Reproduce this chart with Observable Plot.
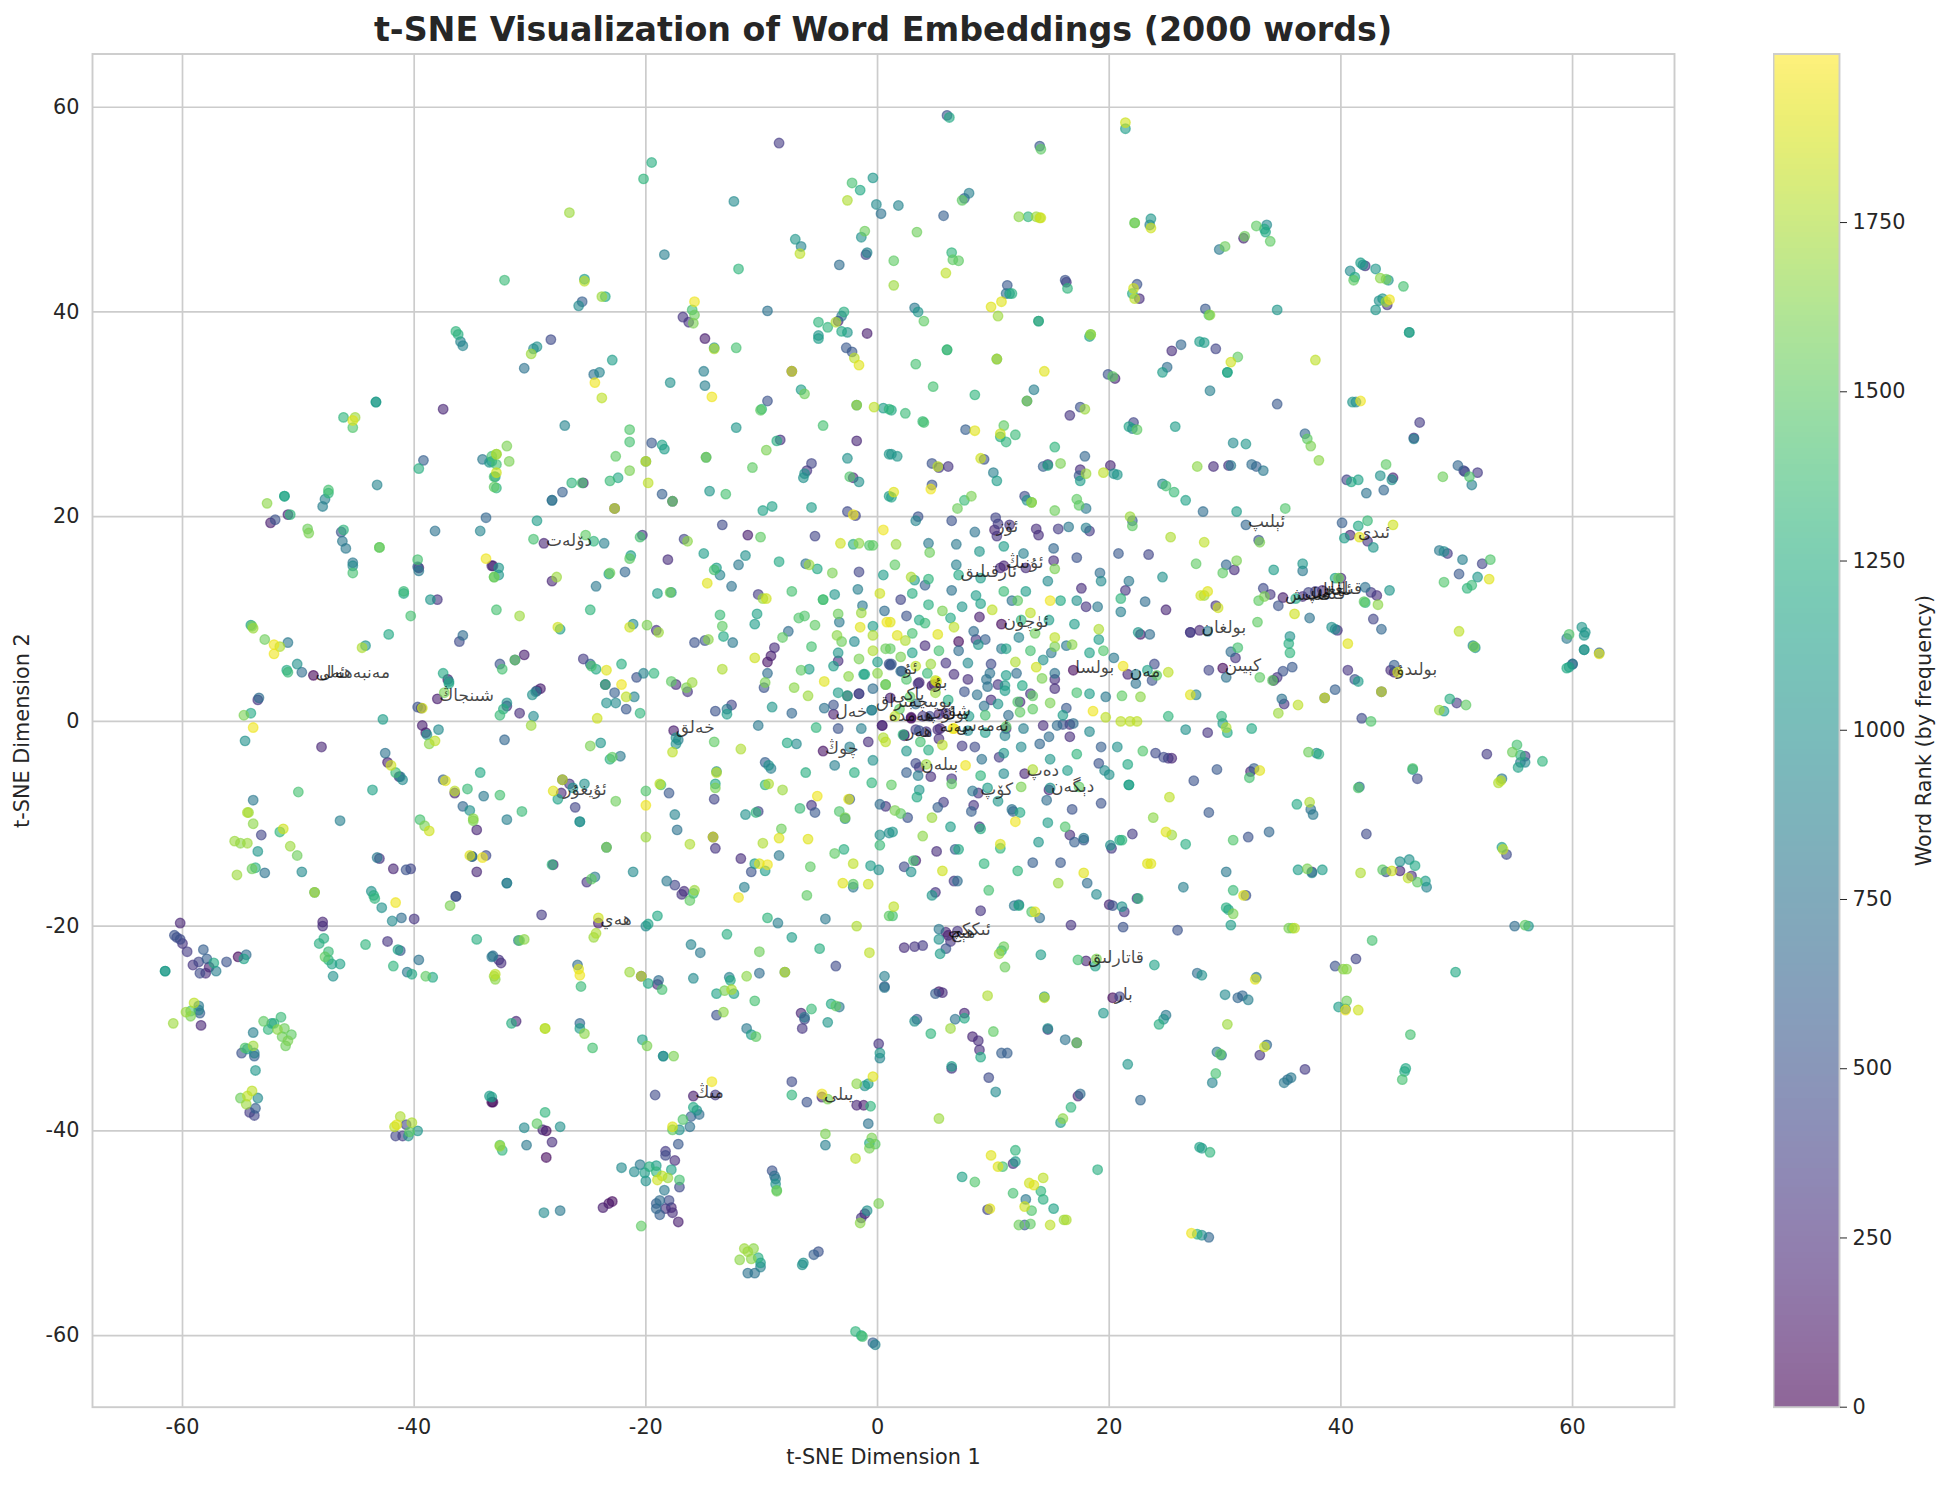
<!DOCTYPE html>
<html>
<head>
<meta charset="utf-8">
<script src="https://cdn.jsdelivr.net/npm/d3@7"></script>
<script src="https://cdn.jsdelivr.net/npm/@observablehq/plot@0.6"></script>
<style>
html,body{margin:0;padding:0;background:#fff;}
#page{position:relative;width:1951px;height:1485px;font-family:"DejaVu Sans",sans-serif;color:#262626;overflow:hidden;}
#page svg{position:absolute;background:transparent;}
#title{position:absolute;left:92px;width:1582px;top:11px;text-align:center;font-weight:700;font-size:33.3px;line-height:38px;color:#262626;}
</style>
</head>
<body>
<div id="page"><div id="title">t-SNE Visualization of Word Embeddings (2000 words)</div></div>
<script>
const chartTitle="t-SNE Visualization of Word Embeddings (2000 words)";
const xTicks=[-60,-40,-20,0,20,40,60];
const yTicks=[-60,-40,-20,0,20,40,60];
const colorTicks=[0,250,500,750,1000,1250,1500,1750];
// x, y, rank triples, grouped by part of the map
const farWestUpper=[-36.4,38.1,1300,-36.2,37.8,1250,-36,37.1,900,-35.8,36.7,900,-43.3,31.2,1050,-43.3,31.2,1100,-37.5,30.5,200,-46.1,29.7,1300,-45.1,29.7,1700,-45.3,29.4,1900,-45.3,28.7,1450,-39.2,25.5,600,-39.6,24.7,1250,-34.1,25.6,800,-33.5,25.3,1050,-33.3,25.9,1400,-33.1,23.9,1400,-33.1,22.9,1500,-43.2,23.1,900,-51.2,22,1200,-51.2,22,1100,-52.7,21.3,1650,-47.4,22.6,1400,-47.4,22.3,1300,-47.7,21.7,850,-47.9,21,850,-50.9,20.2,200,-50.7,20.2,1300,-52,19.7,500,-52.4,19.4,150,-49.2,18.8,1550,-49.1,18.4,1600,-46.1,18.7,1300,-46.3,18.5,500,-46.2,17.6,800,-45.9,16.9,800,-43,17,1550,-43,17,1450,-45.3,15.5,800,-45.3,15.2,950,-45.3,14.5,1400,-39.7,15.8,1400,-39.7,15.1,600,-39.6,14.7,800,-39.6,15,150,-38.2,18.6,750,-33.8,19.9,650,-34.3,18.6,900,-33.8,15.9,1950,-33.3,15.2,200,-33.1,14.1,1500,-40.9,12.7,1350,-40.9,12.5,1200,-38.6,11.9,1050,-38,11.9,300,-40.3,10.3,1400,-42.2,8.5,1200,-35.8,8.4,700,-36.1,7.8,450,-54.1,9.4,1100,-54,9.3,1550,-53.9,9.1,1700,-52.9,8,1550,-50.9,7.7,800,-52.1,7.5,1950,-51.6,7.3,1750,-52.1,6.6,1950,-44.2,7.4,1050,-44.5,7.2,1750,-50.1,5.6,1000,-51,5,1200,-50.9,4.8,1350,-49.7,4.8,700,-48.7,4.5,30,-37.5,4.7,1200,-37.1,4.1,150,-37,3.9,1000,-37,3.7,1200,-37.4,2.8,1600,-38,2.2,150,-39.7,1.4,500,-39.4,1.3,200,-39.3,1.3,1850,-53.4,2.3,700,-53.5,2.1,300,-54.1,0.8,1200,-54.7,0.6,1600,-42.7,0.2,1100];
const farWestLower=[-53.9,-0.6,1950,-54.6,-1.9,1000,-39.3,-0.4,150,-39,-1.1,150,-38.9,-1.3,1000,-37.9,-0.8,950,-38.7,-2.2,1650,-38.2,-1.9,1800,-48,-2.5,200,-42.5,-3.1,750,-42.3,-4,150,-42,-4.3,1850,-41.6,-5,1350,-41.2,-5.4,850,-41.3,-5.4,250,-41,-5.7,950,-37.5,-5.7,600,-37.3,-5.8,1900,-50,-6.9,1400,-43.6,-6.7,1150,-34.3,-5,1200,-35.4,-6.6,1350,-36.5,-6.8,1800,-36.5,-7,200,-34,-7.3,800,-35.8,-8.3,650,-35.2,-8.7,1000,-34.9,-9.5,1650,-34.9,-9.7,1600,-34.6,-10.6,200,-53.9,-7.7,800,-54.4,-8.9,1750,-54.3,-8.9,1700,-53.9,-10,1650,-53.2,-11.1,400,-46.4,-9.7,850,-39.5,-9.6,1400,-39.1,-10.2,1600,-38.7,-10.7,1850,-51.3,-10.5,1850,-51.6,-10.8,1300,-55.5,-11.7,1700,-55,-11.9,1650,-54.4,-11.9,1700,-50.7,-12.2,1700,-50.1,-13.1,1550,-53.5,-12.7,1050,-55.3,-15,1700,-54,-14.4,1550,-53.7,-14.3,1250,-52.9,-14.8,750,-49.7,-14.7,950,-43.2,-13.3,800,-43,-13.4,300,-41.8,-14.4,200,-40.7,-14.5,500,-40.3,-14.4,400,-35.2,-13.1,1900,-35,-13.2,900,-35,-13.2,100,-34.1,-13.3,1950,-33.8,-13.1,450,-34.6,-14.7,200,-48.6,-16.7,1750,-48.6,-16.7,1050,-43.7,-16.6,1000,-43.5,-17,1250,-43.4,-17.3,1300,-41.6,-17.7,1950,-42.8,-18.2,1000,-36.9,-18,1600,-36.4,-17.1,550,-36.4,-17.1,300,-41.1,-19.2,700,-41.9,-19.5,950,-40,-19.3,300,-60.2,-19.7,200,-47.9,-19.6,200,-47.9,-20,250,-60.7,-20.9,500,-60.5,-21.1,450,-60.2,-21.3,450,-60,-21.7,300,-59.6,-22.5,350,-47.8,-21.2,1250,-48.2,-21.7,1250,-42.3,-21.5,300,-44.2,-21.8,1300,-41.4,-22.3,1150,-41.2,-22.4,550,-34.6,-21.3,1250,-39.6,-23.3,750,-41.8,-23.9,1300,-40.6,-24.5,800,-40.2,-24.7,1200,-39,-24.9,1500,-38.4,-25,1200,-33.3,-23,800,-33.1,-24.9,1700,-58.2,-22.3,600,-57.9,-23.2,600,-58.6,-23.5,400,-59.1,-23.8,300,-57.3,-23.6,1200,-57.7,-24,150,-57.1,-24.4,850,-58.5,-24.6,450,-58,-24.6,250,-61.5,-24.4,1100,-61.5,-24.4,1050,-56.2,-23.5,500,-55.2,-23,50,-54.5,-22.8,700,-54.7,-23.2,1150,-47.4,-22.5,1350,-47.7,-23,1500,-47.4,-23.3,1300,-47.1,-23.7,1150,-46.4,-23.7,1150,-47,-24.9,1000,-59,-27.5,1800,-58.6,-27.8,800,-58.6,-28.2,850,-58.5,-28.5,600,-59.7,-28.4,1700,-59.3,-28.8,1600,-59.3,-28.3,1450,-60.8,-29.5,1700,-58.4,-29.7,200,-53,-29.3,1500,-52.3,-29.5,1000,-52.1,-29.5,1300,-51.5,-28.9,1350,-52.6,-30.1,1300,-51.8,-30.1,1650,-51.2,-30,1550,-50.6,-30.6,1500,-51.4,-30.8,1550,-50.9,-31.2,1600,-51.1,-31.7,1550,-53.9,-30.4,850,-54.6,-31.9,1450,-54.4,-32,1100,-53.9,-31.7,1700,-54.9,-32.4,500,-53.8,-32.4,850,-53.8,-32.7,600,-53.7,-34.1,1050,-55,-36.8,1550,-54,-36.1,1800,-54.4,-36.6,1800,-53.5,-36.8,950,-54.5,-37.4,1700,-53.7,-37.8,600,-54.2,-38.2,350,-53.8,-38.5,400,-41.2,-38.6,1750,-40.2,-39.2,1750,-41.7,-39.6,1800,-41.5,-39.4,1900,-40.7,-39.4,400,-41.6,-40.5,400,-41,-40.5,350,-40.5,-40.5,1000,-40.4,-40.1,1500,-39.7,-40,1050,-33.5,-36.6,1100,-33.3,-37.2,50];
const westUpper=[-8.5,56.5,350,-19.5,54.6,1250,-20.2,53,1300,-12.4,50.8,950,-0.4,53.1,1050,-2.2,52.6,1400,-1.5,51.9,1200,-2.6,50.9,1750,-0.1,50.5,950,0.3,49.6,750,-26.6,49.7,1700,-1.1,47.9,1550,-1.4,47.3,1000,-7.1,47.1,1050,-6.6,46.4,900,-6.7,45.7,1800,-0.9,45.8,900,-1,45.6,400,-18.4,45.6,850,-3.3,44.6,700,-12,44.2,1300,-32.2,43.1,1350,-25.3,43.2,1100,-25.3,43,1800,-23.8,41.5,1700,-23.5,41.5,1200,-25.5,41,600,-25.8,40.6,950,-15.8,41,1950,-16,40.2,1400,-15.8,39.7,1550,-16.8,39.5,300,-16.3,39,300,-15.9,38.9,1600,-9.5,40.1,750,-2.9,40,1250,-3.1,39.6,800,-3.4,39.1,250,-3.6,39,1750,-5.1,39,1300,-4.3,38.5,1300,-3.1,38.1,1200,-2.6,38,1050,-5.1,37.7,1050,-5.1,37.4,1100,-0.9,37.9,150,-14.9,37.4,150,-14.1,36.5,1000,-14.1,36.4,1750,-12.2,36.5,1400,-28.2,37.3,450,-29.4,36.6,1000,-29.7,36.4,950,-29.9,35.9,1700,-2.7,36.5,550,-2.2,36.1,550,-2,35.5,1800,-1.6,34.8,1900,-22.9,35.3,1100,-30.5,34.5,750,-24,34.1,900,-24.5,33.9,750,-24.4,33.1,1950,-15,34.2,850,-7.4,34.2,1850,-7.4,34.2,200,-17.9,33.1,1000,-14.9,32.8,850,-14.3,31.7,1950,-23.8,31.6,1800,-6.6,32.4,1100,-6.3,32,1550,-9.5,31.3,500,-10.1,30.4,1500,-10,30.5,1300,-1.8,30.9,1700,-1.8,30.9,1000,-0.3,30.7,1800,0.5,30.6,1100,1,30.5,1300,-27,28.9,900,-12.2,28.7,1050,-4.7,28.9,1400,-21.4,28.5,1450,-21.4,27.3,1400,-19.5,27.2,550,-18.6,27,1150,-18.4,26.6,1100,-22.6,25.9,1500,-21.4,24.5,1600,-20,25.4,1000,-20,25.4,1850,-22.4,23.8,1200,-23.1,23.5,1350,-26.4,23.3,1300,-25.5,23.3,1400,-25.4,23.3,150,-19.8,23.3,1800,-27.2,22.4,600,-28.1,21.6,800,-28.1,21.6,600,-9.6,26.5,1600,-8.4,27.5,300,-8.7,27.4,1250,-1.8,27.4,200,1,26.1,1050,-2.6,25.7,1000,-14.8,25.8,1050,-14.8,25.8,1600,-10.8,24.8,1500,-5.7,25.2,400,-6.1,24.5,300,-6.3,24.2,1000,-6.4,23.8,1000,-2.1,23.8,200,-2.4,23.9,1450,-1.6,23.4,1000,-14.5,22.5,1050,-13.1,22.2,1400,-18.6,22.2,600,-17.7,21.5,200,-17.7,21.5,1500,-22.7,20.8,1800,-22.7,20.8,200,-9.9,20.6,1150,-9.1,21,1150,-5.7,20.9,1100,-2.6,20.5,450,-2.1,20.2,1950,-1.9,20.1,400,-29.4,19.6,1100,1,22,1100,-13.4,19.2,450,-32,26.9,1600,-32.9,26.1,1600,-32.9,26.1,1750,-31.8,25.4,1600,-33.3,25.4,1100,-32.9,25.1,1400,-32.9,24.3,1850,-33,23.9,1050,-32.9,22.8,1300,-29.7,17.8,1400,-28.8,17.4,200,-25.2,18.2,1500,-24.5,17.6,1300,-23.6,17.4,850,-20.3,18.2,350,-20.5,18,1400,-16.7,17.8,400,-16.4,17.6,1650,-11.2,18.2,150,-10.1,18,1500,-5.4,18.1,400,0.5,18.7,1950,-3.2,17.4,1850,-2.1,17.3,1250,-1.6,17.4,1650,-0.7,17.2,1450,-0.4,17.2,1500,-15,16.4,1100,-11.4,16.2,1000,-18.1,15.8,250,-21.3,16.2,1100,-21.4,15.9,1500,-12,15.3,800,-8.5,15.6,1200,-6.2,15.4,750,-5.9,15.3,1700,-5.2,14.9,1200,-13.9,15,1100,-14.1,14.8,1400,-13.6,14.3,900,-21.8,14.6,650,-23.1,14.5,1550,-23.2,14.4,1100,-3.9,14.5,1600,-1.6,14.6,400,0.5,14.3,1100,-33.2,15.2,200,-32.7,15,1050,-32.7,14.3,1050,-33.1,14.1,1550,-27.7,14.1,1700,-28.1,13.7,200,-24.3,13.2,800,-14.7,13.5,1900,-12.6,13.2,750,-19,12.5,1100,-17.8,12.6,1000,-17.9,12.6,1550,-10.3,12.4,350,-9.9,12,1700,-9.6,12,1850,-7.4,12.7,1400,-4.7,11.9,1350,-3.7,12.4,1050,-1.7,12.9,850,0.2,12.5,1850,-4.7,11.9,1400,-1.3,11.3,800,-32.9,10.9,1400,-30.9,10.3,1700,-24.8,10.9,1300,-13.6,10.4,1350,-10.4,10.5,1150,-6.8,10.1,1450,-6.3,10.3,1450,-3.4,10.5,1550,-1.4,10.6,1700,0.6,10.8,700,-21.1,9.5,950,-21.4,9.2,1850,-19.9,9.4,1600,-19.1,8.9,300,-18.9,8.7,1700,-27.6,9.2,1850,-27.4,9,1100,-13.4,9.3,1500,-10.6,9.5,1100,-5.4,9.4,1500,-3.3,9.7,800,-1.5,9.2,1900,-0.4,9.3,1100,0.8,9.7,1950,-7.7,8.8,700,-8.2,8.2,1500,-13.3,8.3,1200,-15.8,7.7,500,-14.9,7.9,500,-14.6,8,1650,-12.5,7.7,800,-3.5,8.4,1650,-3.1,7.8,1550,-2,7.8,950,-0.4,8.4,1750,-5.7,7.3,1400,-8.9,7.2,250,-0.4,6.9,1750,0.7,7.1,1550,-9.2,6.4,150,-10.6,6.2,1850,-9.5,5.8,100,-30.5,6.5,150,-31.3,6,400,-31.3,6,1500,-32.6,5.6,500,-32.4,5.1,1400,-25.4,6.1,350,-24.8,5.6,600,-24.7,5.4,1400,-24.3,5.1,1200,-23.4,5,1900,-22.1,5.6,1250,-20.8,4.3,500,-20.2,4.7,900,-19.3,4.7,1300,-13.4,5.1,1750,-9.5,4.7,700,-6.6,5,1500,-5.9,5.1,1100,-3.4,6.7,1050,-3.4,5.9,250,-3.8,5.4,1100,-1.6,6.1,1600,0,5.8,1100,1,5.6,500,-1.2,4.6,1100,0,4.7,1650,-2.5,4.4,1650,-4.6,3.9,1900,-9.7,3.8,1600,-9.8,3.3,500,-7.2,3.3,1650,-6,2.5,1700,0.7,3.6,1600,-17.8,3.9,1500,-17.4,3.6,250,-16,3.8,1700,-16.5,3.3,1600,-16.4,2.9,300,-23.5,3.6,1300,-23.5,3.6,200,-22.1,3.6,1950,-22.7,2.8,600,-21.7,2.4,1800,-21,2.4,900,-23.4,1.8,1000,-22.6,1.8,950,-21.7,1.2,550,-20.5,0.8,1300,-24.2,0.3,1850,-29.1,3.2,150,-29.4,3,200,-29.5,2.9,800,-29.8,2.6,1000,-32,1.8,1000,-32,1.5,300,-32.3,1.2,1250,-32.6,0.6,1350,-30.9,0.8,250,-29.7,0.5,950,-12.6,1.6,400,-13,1.2,800,-14,1,500,-13,0.7,1100,-9.1,1.4,1050,-7.4,0.8,650,-0.4,3.2,700,-3.4,2.8,1100,-2.6,2.5,1250,-2.6,2.5,200,-1.6,2.7,300,-3.8,1.6,500,-4.6,1.3,750,-3.8,0.7,150,-0.5,1.1,800];
const westLower=[-10.3,-0.4,800,-17.6,-0.9,150,-17.4,-1.6,1000,-17.2,-1.8,850,-17.4,-2.2,1000,-17.7,-3,1800,-14.1,-2,1500,-11.8,-2.7,1750,-7.8,-2.1,1200,-7,-2.2,950,-5.3,-0.6,1300,-3.4,-0.7,500,-1.4,-0.7,850,0.4,-0.4,200,-32.2,-1.8,650,-29.9,-0.4,1700,-23.9,-2.1,1050,-24.8,-2.4,1600,-22.9,-3.5,1500,-23.1,-3.7,1250,-22.2,-3.4,800,-4.7,-2.9,100,-2.4,-2.5,850,-0.8,-2,250,0.5,-1.6,1750,0.7,-2,1800,-0.4,-3.8,1000,-3.7,-4.3,850,-2,-5,1250,-9.7,-4,600,-9.4,-4.3,1000,-9.2,-4.6,850,-13.9,-4.9,1000,-13.9,-5,1800,-14,-6.1,1200,-14,-6.5,1600,-6.2,-5,1250,-27.2,-5.7,1800,-27.2,-5.7,300,-26.6,-6.1,300,-26.3,-6.5,1000,-25.3,-6.1,1000,-28,-6.8,1900,-27.3,-7,200,-27.6,-7.6,1150,-26.1,-8.4,400,-32.6,-7.2,1400,-30.7,-8.8,1350,-32,-9.6,850,-25.7,-9.8,950,-25.7,-9.8,1000,-22.6,-7.8,1550,-20,-6.8,1450,-20,-8.2,1950,-18.8,-6.1,1800,-18.7,-6.2,1450,-18,-7,550,-14.1,-7.6,400,-17.5,-9.1,900,-17.3,-10.6,750,-20,-11.3,1700,-16.2,-12,1750,-14.2,-11.3,1850,-14.2,-11.3,300,-14,-12.4,300,-23.4,-12.3,800,-23.4,-12.3,1600,-11.8,-13.4,250,-10.3,-8.8,400,-10.5,-8.9,1300,-11.4,-9.1,1000,-9.7,-6.2,1300,-9.4,-6.1,1750,-8.2,-6.7,1700,-8.3,-10.5,1550,-8.5,-11.4,1900,-9.9,-11.9,1750,-8.5,-13.1,800,-10.6,-13.9,1100,-10.2,-13.9,1900,-9.5,-14,1950,-10.9,-14.7,500,-9.7,-14.6,1100,-5.2,-7.3,1950,-6.7,-8.5,1350,-5.7,-8.2,300,-5.4,-8.9,550,-2.4,-7.6,600,-2.5,-7.6,1900,-3.3,-8.8,1450,-2.8,-9.4,1600,-2.8,-9.5,900,-0.5,-6,1300,0.2,-8.1,700,0.7,-8.3,300,0.2,-11.1,1000,0.2,-12.1,1350,1,-10.9,950,-6,-11.5,1900,-3.7,-12.9,1500,-2.9,-12.5,1250,-5.8,-14.2,1500,-2.1,-13.9,1800,-0.6,-14.1,1100,0.1,-14.5,1000,-3,-15.8,1900,-2.1,-15.9,1500,-2.1,-16.2,800,-0.8,-15.9,1850,-6.1,-17,1500,-11.5,-16.2,850,-12,-17.2,1950,-28.1,-14,1300,-28,-14,200,-25.1,-15.7,300,-24.7,-15.4,1500,-24.4,-15.2,800,-21.1,-14.7,950,-32,-15.8,850,-32,-15.8,800,-18.2,-15.6,800,-17.5,-16,400,-16.7,-16.6,250,-16.9,-16.9,300,-15.8,-16.5,1700,-15.9,-16.8,1300,-16.2,-17.5,1500,-29,-18.9,350,-24.1,-19.2,1850,-24.1,-19.7,150,-24.3,-20.7,1750,-24.5,-21.1,1700,-20,-20,950,-19.8,-19.8,1150,-19,-19,1200,-9.5,-19.2,1300,-8.6,-19.7,850,-4.5,-19.3,800,-1.8,-20,1750,1,-19,1500,-30.9,-21.4,1500,-31,-21.4,800,-30.5,-21.3,1650,-16.1,-21.8,900,-15.3,-22.6,800,-13,-20.8,1250,-7.4,-21.1,1100,-5,-22.2,1250,-10.2,-22.5,1550,-0.7,-22.6,1800,-3.6,-23.9,450,-33.2,-22.9,700,-32.7,-23.3,300,-32.5,-23.6,250,-33,-24.7,1800,-33,-25.2,1650,-25.9,-23.8,700,-25.8,-24.2,1900,-25.7,-24.8,1950,-25.6,-25.9,1350,-21.4,-24.5,1700,-20.4,-24.9,1800,-20.4,-24.9,300,-19.8,-25.6,1200,-18.9,-25.3,700,-19,-25.7,200,-18.6,-26.2,1400,-15.9,-25.1,950,-12.8,-25,850,-12.7,-25.3,1200,-11.3,-24.9,1650,-10.2,-24.6,700,-8,-24.5,1800,-8,-24.5,800,-13.9,-26.6,1150,-13.2,-26.3,1600,-12.6,-26.2,1750,-12.4,-26.6,1150,-10.6,-27.3,1400,0.6,-24.9,850,0.6,-25.9,550,0.6,-26,800,-5.7,-28.1,1350,-6.6,-28.5,200,-6.3,-28.9,800,-6.3,-29.1,400,-6.5,-30,300,-4,-27.6,1200,-3.6,-27.8,1500,-3.3,-27.9,800,-4.3,-29.4,1050,-13.9,-28.7,500,-13.3,-28.4,1650,-11.3,-30,800,-10.9,-30.6,1100,-10.5,-30.8,1500,-31.2,-29.3,200,-31.6,-29.5,1250,-28.7,-30,1800,-28.7,-30,1750,-25.7,-29.5,650,-25.7,-30,1100,-25.3,-30.5,1650,-24.6,-31.9,1400,-20.3,-31.1,1150,-19.9,-31.7,1600,-18.5,-32.7,1000,-18.5,-32.7,900,-17.6,-32.7,1600,0.1,-31.5,300,0.2,-32.4,1050,0.2,-32.9,900,-14.3,-35.2,1950,-0.4,-34.7,1900,-1.8,-35.4,1650,-0.8,-35.4,1100,-1.1,-35.6,1000,-7.4,-35.2,450,-7.4,-36.5,1300,-4.8,-36.4,1950,-4.8,-36.7,200,-4.3,-36.9,1600,-6.1,-37.2,500,-1.8,-37.5,200,-1.2,-37.5,150,-0.6,-37.6,1300,-0.8,-39.3,750,-19.2,-36.5,450,-15.9,-36.6,150,-14,-36.5,350,-15.9,-37.7,1200,-15.6,-38,1000,-15.4,-38.4,700,-16.1,-38.6,600,-16.8,-38.9,1450,-17.7,-39.6,1900,-17.7,-39.9,1500,-17.1,-39.9,1000,-16.2,-39.6,750,-33.3,-36.7,1100,-33.2,-37.2,50,-28.7,-38.2,1300,-29.4,-39.3,1500,-30.5,-39.7,950,-27.4,-39.6,1000,-28.9,-39.9,200,-28.6,-40,50,-28.1,-41.1,250,-30.3,-41.4,800,-32.6,-41.4,1500,-32.4,-41.9,1300,-32.6,-41.5,1700,-28.6,-42.6,50,-4.5,-40.3,1600,-4.5,-41.4,850,-0.5,-40.7,1600,-0.7,-41.2,1200,-0.2,-41.3,1500,-0.7,-41.7,1600,-1.9,-42.7,1800,-17.2,-41.3,550,-18.3,-42,350,-18.3,-42.4,450,-17.5,-42.9,250,-22.1,-43.6,950,-21,-44,950,-20.5,-43.3,800,-20.1,-44.1,1100,-20,-44.9,1000,-19.7,-43.5,1250,-19.1,-44,1300,-19.1,-43.4,1100,-17.8,-43.8,1150,-19,-44.8,1850,-18.6,-44.4,1800,-18.1,-44.6,1700,-17.1,-44.8,1400,-18.4,-45.8,800,-17.1,-45.5,450,-18.8,-46.8,700,-19.1,-47.1,600,-18,-46.8,450,-19.1,-47.6,650,-18.3,-47.6,300,-17.8,-47.5,200,-18.8,-48.2,600,-17.7,-48,250,-17.2,-48.9,150,-20.4,-49.3,1500,-23.7,-47.5,150,-23.2,-47.1,100,-22.9,-46.9,50,-28.8,-48,950,-27.4,-47.8,800,-9.1,-43.9,500,-8.9,-44.4,700,-8.8,-44.7,800,-8.8,-45.2,1000,-8.7,-45.8,1450,-8.7,-45.9,1550,0.1,-47.1,1600,-0.9,-47.8,1000,-1.1,-48.1,200,-1.4,-48.5,300,-1.5,-49,1650,-11.5,-51.5,1700,-10.7,-51.5,1650,-11.2,-51.8,1700,-11.9,-52.6,1650,-10.9,-52.5,1650,-10.3,-52.4,1250,-10.1,-52.9,1100,-10.1,-53.3,850,-11.2,-53.9,750,-10.6,-53.9,750,-5.1,-51.8,500,-5.5,-52.1,600,-6.4,-52.9,1000,-6.5,-53.1,1000,-1.9,-59.6,1300,-1.4,-60,1200,-1.3,-60.1,1400,-0.4,-60.7,600,-0.2,-60.9,900];
const eastUpper=[6,59.2,500,6.2,59,1200,21.4,58.5,1850,21.4,57.9,1100,14,56.2,550,14.1,55.9,1500,7.9,51.6,850,7.5,51.1,600,7.3,50.9,1500,1.8,50.4,900,5.7,49.4,600,12.2,49.3,1650,13,49.3,1300,13.7,49.3,1700,14,49.2,1800,14.1,49.2,1850,3.4,47.8,1550,22.2,48.7,1600,22.2,48.7,1450,23.6,49.1,1050,23.5,48.5,850,23.6,48.2,1850,32.7,48.4,1500,33.6,48.5,950,33.4,48.1,1200,33.5,47.8,1200,33.9,46.9,1500,31.7,47.4,1550,31.6,47.2,200,30,46.4,1550,29.5,46.1,800,6.4,45.8,1300,6.5,45.1,1500,7,45,1500,1.4,45,1500,5.9,43.8,1800,1.4,42.6,1700,11.2,42.6,550,11.1,41.8,700,11.4,41.8,1100,11.6,41.8,1250,16.2,43.1,500,16.3,42.9,300,16.4,42.3,1300,22.4,42.7,500,22.1,42.3,1850,22,41.8,1200,22.2,41.3,1800,22.6,41.3,250,3.2,40.4,800,3.5,40,1050,4,39.1,1500,9.8,40.5,1900,10.7,41,1900,10.4,39.6,1700,13.9,39.1,850,13.9,39.1,1300,18.4,37.8,1700,18.3,37.6,1150,18.4,37.8,1500,28.3,40.3,550,28.6,39.7,1450,28.7,39.7,1650,34.5,40.2,1050,6,36.3,1400,6,36.3,1100,3.3,34.9,1400,10.3,35.4,1800,10.3,35.4,1150,14.4,34.2,1900,26.2,36.8,650,25.4,36.2,250,27.8,37.1,1100,28.2,37,1100,29.2,36.4,400,31.1,35.6,1500,30.5,35.1,1850,30.2,34.1,1200,30.2,34.1,1100,25,34.6,700,24.6,34.1,1100,19.9,33.9,500,20.3,33.7,1500,20.5,33.5,200,13.5,32.4,850,12.9,31.3,1600,12.9,31.3,700,28.7,32.3,850,4.8,32.7,1400,8.4,31.9,1300,34.5,31,550,17.5,30.7,500,17.9,30.5,1700,16.6,29.9,300,2.4,30.1,1350,1.2,30.4,1200,3.9,29.3,1350,4,29.2,1400,7.6,28.5,600,8.4,28.4,1900,10.9,28.9,1500,11.9,28,1350,10.6,28.1,1850,10.6,27.8,1250,11.1,27.3,1300,15.3,26.8,1300,22.1,29.2,400,21.7,28.8,1150,22,28.6,850,22.4,28.5,1500,25.7,28.8,1100,30.7,27.2,950,31.8,27.1,1050,1.2,26.1,1000,1.7,25.9,1050,4.7,25.2,500,5.2,24.9,1800,5.3,24.8,350,6.1,24.9,300,8.9,25.7,1850,9.2,25.6,500,14.3,24.9,600,14.7,25.1,300,14.7,25,1200,15.8,25.2,1600,17.9,25.9,650,17.5,24.6,250,17.4,24,550,18,24.2,1700,17.5,23.5,1100,19.5,24.3,1800,20.1,25,200,20.4,24.2,1000,20.7,24.1,1050,10,24.3,850,10.3,23.5,1100,4.7,23.1,500,4.6,22.7,1950,1.4,22.4,1900,1.2,21.9,1150,27.6,24.9,1650,29,24.9,250,30.3,25,300,30.5,25,800,32.3,25.1,700,32.7,24.9,600,33.3,24.5,800,24.6,23.2,900,24.9,23,1400,25.6,22.4,1350,26.6,21.6,1150,8.1,22,1600,7.5,21.6,1350,6.9,20.8,1550,12.7,22,450,12.9,21.6,1000,13.3,21.4,1700,13.3,21.4,1400,17.2,21.7,1500,17.4,21.1,1500,18,20.8,800,15.3,20.6,1550,28.1,20.5,700,31,20.5,1100,35.2,20.8,1450,3.5,20,500,3.3,19.6,900,6.4,19.6,500,10.2,19.9,400,10.4,19.3,350,10.1,18.7,200,10.3,18.1,300,11.4,19.2,300,13.7,18.8,250,13.9,18.2,250,15.6,18.8,350,16.5,19,800,18,18.9,850,18.3,18.6,350,21.8,20,1700,22,19.6,600,22,19.1,1500,31.8,19.2,650,25.3,18,1750,28.2,17.5,1800,32.9,17.7,500,33,17.5,1600,4.4,17.4,800,1.6,17.3,1700,6.8,17.3,800,8.4,18.5,750,4.5,16.5,1550,10.9,17.1,1100,8.8,16.6,1050,12.6,16.4,850,15.2,16.9,650,17.2,16,500,20.8,16.4,550,23.4,16.3,400,15.2,15.7,250,15.3,14.9,1600,1.5,15.3,1500,6.8,15.3,850,10.9,15.2,200,10.6,15,200,12.8,15,250,19.2,14.5,700,19.3,13.7,950,2.9,14.1,1750,3.2,13.8,1100,4.1,13.3,600,4.4,13.9,1300,7,14.3,1200,8.9,14,1100,14.7,13.7,950,27.5,15.4,1500,30.1,15.3,650,31,15.7,1600,30.8,14.8,250,29.8,14.5,1500,24.6,14.1,1000,34.2,14.8,1100,21.7,13.7,800,21.4,12.8,300,2,11.9,400,3,12.5,1250,6.4,12.8,750,8.5,12.3,1100,10.9,12.7,1350,12.8,12.7,1100,17.6,13,250,33.3,13,450,33.9,12.4,300,35,12.1,150,32.9,11.8,1500,33.4,12.2,1600,34.6,11.3,500,4.4,11.4,1250,7.3,11.2,1050,8.9,11.5,1150,11.6,11.8,750,12.1,11.8,1500,14.9,11.8,1950,15.8,11.8,1200,17.2,11.8,1000,18,11.2,300,19,11.2,800,21,12,1300,23.1,11.7,700,21,10.7,850,24.9,10.9,200,27.9,12.3,1850,28.5,12.7,1900,28.2,12.3,1700,29.2,11.3,300,29.4,11.1,1850,5.6,10.8,1600,9.9,10.9,1800,1.1,9.7,1900,2.5,10.3,500,3.6,9.9,1200,4.1,9.6,1350,6.3,10.1,1200,8.8,10.2,150,13.2,10.6,1800,14.8,9.9,1100,12.4,9.9,1300,10.7,9.5,50,32.8,9.7,1500,17,9.5,1100,6.6,9.2,1800,1.7,8.4,1900,2.4,7.9,1750,3,8.6,1400,5.2,8.5,1900,4.1,7.4,250,1.1,7.1,1500,5.3,6.9,1400,8.3,8.8,700,8.5,8,300,9.3,8,600,8.7,7.5,1050,7,7.8,50,7,6.9,700,10.7,7.1,800,11.1,7.1,1150,12.2,8.2,900,13.6,8.6,1550,15.3,8.2,1800,15.3,7.3,1600,13.2,6.9,1400,15,6.7,800,16.3,7.4,800,16.8,7.5,1650,19.1,9,1750,19.1,8,1100,18.3,6.7,1150,19.5,6.9,1450,14.3,6,1000,2,6.3,1600,3,6.7,1150,1.2,5.6,550,7.8,5.7,950,9.8,5.6,450,11.9,5.8,1750,5.9,5.7,300,4.6,5.6,1700,3.3,5.4,1800,2,4.9,700,13.7,5.3,1850,16.9,5,50,15.3,4.7,750,21.2,5.4,1950,20.4,6.2,800,23.9,5.6,450,21.6,4.6,200,22.3,4.6,850,22.3,3.7,750,23.7,4,500,24.1,4.5,1500,23.3,5,1150,25.1,4.8,1800,28.6,5,400,29.8,5.2,50,30.9,6.2,300,30.5,6.8,700,31.1,7.2,1400,30.1,4.3,750,22.5,8.7,1050,22.7,8.5,150,23.5,8.5,700,27,8.7,350,27,8.7,300,27.8,8.9,200,28.5,8.8,800,33,4.3,1500,34.1,4,1500,34.5,4.3,300,35,4.9,500,34.2,4,200,4.3,4.7,1350,6.6,4.6,250,5,4,1800,4.9,3.6,200,3.6,3.8,200,2.5,4.1,1450,7.8,4.1,250,9.4,4.1,750,9.7,4.7,750,11.1,4.5,1100,12,4.7,700,10.4,3.6,300,9.5,3.4,750,11,3.5,1100,11,3,1100,12.5,3.5,1200,14.2,4.2,1600,15.3,4.1,250,15.3,3.2,250,13.2,2.7,300,13.4,2.5,1500,17.2,2.8,1400,18.3,2.7,1100,19.7,2.4,800,21.1,2.5,1500,22.7,2.4,1650,27,2.6,1900,27.5,2.6,900,34.9,2.2,750,35.1,1.7,300,7.5,2.9,500,8.6,2.6,750,6.1,2.1,1250,9.8,2.1,250,9.2,1.5,750,10.4,1.7,1050,12.1,1.9,1450,12.3,1.9,250,13.4,1.2,1500,14.9,1.8,1600,16.3,1.3,550,12.3,0.9,1500,11.3,0.6,700,9.3,0.6,1400,7.9,0.5,1100,18.6,1,1950,16,0.6,1100,34.6,0.8,1700,25.1,0.5,1300,19.7,0.4,1800,21,0,1800,21.8,0,1800,22.4,0,1800,29.7,0.5,1300,2.9,0.4,100];
const centreCluster=[1.1,2.3,150,2.9,0.3,30,3.5,3.7,300,4.7,3.5,100,5.1,3.9,1900,1.1,5.5,500,2.1,4.9,500,-1.1,4.6,1200,0.7,3.6,1400,-1.6,2.7,400,-0.5,1.1,900,0.4,-0.4,200,3.3,1.7,700,3.9,0.5,300,5.3,0.7,200,5.9,0.8,250,4.5,0.5,400,5.2,-0.8,250,6.6,-0.7,1950,3.3,-0.8,350,4.2,-1,300,2.3,-1.3,150,1.5,0.5,1800,1.9,1.2,1500,2.8,2.4,1500,5,2.8,1700];
const eastLower=[12.6,-0.7,850,14.3,-0.4,250,15.5,-0.4,700,16,-0.3,500,16.6,-0.3,250,16.9,-0.2,700,18.3,-1,950,11.1,-0.5,1500,11.1,-0.7,300,11,-1.4,900,9.3,-1.1,1100,7.8,-0.9,950,6.5,-0.7,1950,5.4,-0.7,250,3.6,-0.9,500,2.2,-1.3,1300,2.3,-1.4,250,14.8,-1.5,700,16.6,-1.5,250,3.7,-2,1400,5.3,-1.7,250,5.6,-2.3,1800,7.3,-2.4,350,8.4,-2.5,450,12.4,-2.5,950,14,-2.2,650,2.5,-2.9,1050,4.4,-2.8,1250,10.9,-3.1,1050,10.5,-3.5,350,9,-3.7,750,14.9,-3.7,1050,17.2,-3.2,1300,19.3,-2.5,600,20.7,-2.5,1000,22.9,-2.9,1450,24,-3.1,450,24.7,-3.5,450,25.1,-3.6,300,25.4,-3.6,200,26.6,-0.8,1000,28.5,-1.1,300,30.1,-0.6,1750,30.2,-1.1,1200,29.8,-0.2,1100,32.3,-0.7,1200,3.3,-4.1,450,3.6,-4.5,250,4.2,-4.2,1700,7.6,-4.3,1950,19.1,-4.1,500,21.6,-4.2,1200,29.3,-4.7,550,2.5,-5,600,3.5,-5.3,850,4.6,-5.4,250,6.4,-5.6,300,6.4,-6.1,1500,8.9,-5.3,1300,10.9,-5.1,950,12.7,-5.1,200,13.4,-4.7,1750,16.4,-4.8,1100,19.6,-4.8,950,20,-5.2,1000,32.5,-4.6,600,32.2,-4.9,200,32.1,-5.5,1400,33,-4.8,1900,27.3,-5.8,500,1.2,-6.2,1500,3.6,-6.7,1050,3.4,-7.4,1200,8.2,-6.8,800,8.7,-7,300,9.5,-6.5,1100,12.4,-6.4,1600,14.9,-6.5,1000,14.8,-6.7,200,17.4,-6.4,1500,21.7,-6.2,1150,21.7,-6.2,1100,25.2,-7.4,1800,14.6,-7.7,700,10.4,-7.8,1050,5.7,-7.9,350,5.2,-8.4,600,8.3,-8.2,300,8.1,-8.8,600,19.3,-8,500,16.8,-8.6,500,11.6,-8.6,750,11.7,-8.8,600,12.3,-8.9,1200,11.9,-9.8,1950,1.5,-8.7,1600,2,-9,1500,2.6,-9.4,500,4.7,-9.4,1700,23.8,-9.4,1650,28.6,-8.9,550,14.7,-9.9,1100,16.2,-10.3,1450,6.3,-10.3,1100,8.8,-10.3,350,8.9,-10.5,1250,1.3,-10.8,1050,3.9,-11.2,1650,16.6,-11.1,250,17,-11.8,600,17.8,-11.4,800,17.8,-11.6,550,22,-11,350,24.9,-10.8,1900,25.4,-11.1,1700,30.7,-11.6,1450,32,-11.3,500,33.8,-10.8,650,13.9,-11.8,1050,10.6,-12,1900,10.6,-12.4,1300,20.1,-12.1,1000,20.9,-11.6,1200,21.1,-11.6,1300,20.2,-12.4,350,26.6,-12,1250,5.1,-12.7,250,6.7,-12.5,600,7,-12.5,1200,2.3,-14.2,450,3.1,-13.6,1400,3.3,-13.6,200,2.9,-14.7,1000,9.2,-13.9,1300,13.4,-13.8,600,15.8,-13.8,550,12.1,-14.6,1300,5.6,-14.6,1850,23.3,-13.9,1900,23.6,-13.9,1900,30.1,-14.7,800,17.8,-14.8,1900,6.6,-15.6,350,6.9,-15.6,700,18.1,-15.8,700,15.6,-15.8,1700,26.4,-16.2,850,18.9,-16.9,950,9.6,-16.5,1400,5,-16.7,300,4.7,-17,1050,22.5,-17.3,1300,22.4,-17.3,300,30.7,-16.5,1350,31.6,-17,1900,31.8,-17,500,20,-17.9,200,20.3,-18,500,21.1,-18.1,1000,21.3,-18.6,300,30.1,-18.2,1250,30.3,-18.4,1150,30.7,-18.8,1600,8.9,-18.5,300,1.4,-18.1,1800,1.3,-19,1400,11.8,-18,800,12.2,-17.9,700,12.2,-18,1200,13.3,-18.6,1450,13.6,-18.6,1900,14,-19.2,700,16.7,-19.9,300,21.2,-20.1,500,25.9,-20.4,500,30.5,-19.9,1100,35.5,-20.2,1600,5.3,-20.3,800,5.9,-20.6,200,6.1,-20.9,100,6.9,-20.5,300,5.3,-21.3,1000,6.3,-21.5,300,5.9,-22.2,500,5.4,-22.7,1100,2.3,-22.1,250,3.2,-22,300,3.9,-21.9,350,10.9,-22,1550,10.7,-22.4,1300,10.5,-22.7,1700,11,-24,1550,14.1,-22.8,1100,17.3,-23.3,1400,18,-23.4,200,18.9,-23.2,1600,18.8,-23.9,1150,23.9,-23.8,1150,27.6,-24.6,700,28,-24.8,1000,32.7,-25,800,32.6,-25.2,1900,30,-26.7,950,31.1,-27,650,31.5,-26.8,650,32,-27.2,850,5,-26.6,600,5.3,-26.4,150,5.6,-26.5,250,9.5,-26.8,1750,14.4,-26.9,1000,14.4,-27,1800,20.3,-27,50,20.9,-26.9,400,19.5,-28.5,1050,24.9,-28.7,800,24.7,-29.1,1000,24.3,-29.6,1250,30.2,-29.6,1700,7.5,-28.5,200,7.5,-29,1200,6.7,-29.1,750,3.4,-29.1,500,3.2,-29.3,1000,4.6,-30.5,1300,6.3,-30,1700,10,-30.3,1500,14.7,-30.1,300,14.7,-30,1000,16.2,-31.1,750,17.2,-31.4,1550,17.2,-31.4,400,8.2,-30.8,200,8.7,-31.2,250,8.8,-32.1,250,8.9,-32.8,1200,10.7,-32.4,600,11.2,-32.4,600,33.6,-31.6,650,33.4,-31.8,1850,33,-32.6,300,29.3,-32.3,800,29.6,-32.5,1500,29.7,-32.6,800,21.6,-33.5,1050,29.2,-34.4,1400,28.9,-35.3,900,35.1,-35.3,800,35.4,-35,700,6.4,-33.7,1100,6.4,-33.9,300,9.6,-34.8,450,10.2,-36.2,950,22.7,-37,650,17.5,-36.4,700,17.3,-36.6,200,16.7,-37.7,1300,16,-38.8,1650,15.8,-39.2,1100,5.3,-38.8,1700,11.9,-41.9,1300,9.8,-42.4,1900,11.9,-43,1100,11.7,-43.2,300,10.8,-43.5,1400,10.4,-43.5,1900,7.3,-44.5,1150,8.4,-45,1450,19,-43.8,1250,14.3,-44.6,1800,13.1,-45.1,1850,13.5,-45.3,1900,14.1,-45.9,1300,11.7,-46.1,1400,14.3,-46.7,1250,12.8,-46.7,800,12.7,-47.4,1850,13.3,-47.8,1450,15.2,-47.6,1150,9.5,-47.7,400,9.7,-47.6,1900,12.2,-49.2,1550,12.7,-49.2,600,13.2,-49.1,1500,14.9,-49.2,1800,16.1,-48.7,1700,16.3,-48.7,1750,27.1,-50,1950,27.8,-41.6,1150,28,-41.7,1050,28.7,-42.1,1300,27.6,-50.1,1250,28,-50.2,950,28.6,-50.4,650];
const farEastUpper=[41.7,44.8,1100,42.1,44.5,300,41.9,44.6,1000,40.8,44,950,43,44.2,1050,41.2,43.4,1200,41.1,43.1,1500,43.4,43.3,1650,43.9,43.2,1550,44.1,43.1,1050,45.4,42.5,1400,43.6,41.3,1050,43.3,41.1,1000,44,40.7,300,43.9,41,1700,44.2,41.2,1950,43,40.2,1050,45.9,38,1200,45.9,38,900,37.8,35.3,1800,41,31.2,1050,41.3,31.2,900,41.7,31.3,1950,46.8,29.2,350,46.3,27.7,350,46.3,27.6,850,36.9,28.1,650,37.1,27.6,1500,37.4,26.9,1600,38.1,25.5,1650,43.9,25.1,1500,43.4,24,1000,44.4,23.6,1000,44.5,23.8,200,40.5,23.6,400,40.9,23.4,1200,41.5,23.6,1150,42.2,22.3,750,43.7,22.6,650,50.1,25,650,50.6,24.5,400,50.7,24.4,450,51.8,24.3,350,51.1,23.9,1450,51.3,23.1,850,48.8,23.9,1550,40.1,19.4,600,41.5,19.1,1200,42.3,19.6,1350,44.5,19.2,1850,40.8,18.2,200,40.3,17.9,1100,41.6,18,1900,42.3,17.6,300,42.8,17,1050,48.5,16.7,800,48.9,16.6,950,49.2,16.4,350,50.5,15.8,850,52.9,15.8,1450,52.2,15.4,400,50.2,14.4,550,51.8,14.1,1050,52.8,13.9,1900,48.9,13.6,1450,51.3,13.3,1350,50.9,13,1300,36.7,15.4,1050,36.7,14.7,800,39.5,14,1150,39.8,14,1550,40,14,250,42.1,13.1,750,42.6,12.6,350,43.1,12.3,250,44.2,12.8,1050,36.1,12,1200,36.7,12.2,250,37.2,12.6,400,37.8,12.7,350,38.4,12.8,250,42,11.7,1500,42.1,11.6,1300,43.2,11.4,1650,36,10.5,1850,37.3,10.1,750,39.2,9.2,1000,39.5,9,900,39.7,8.9,300,42.8,10,400,43.5,9,650,40.6,7.6,1900,35.6,8.3,1000,35.5,7.6,1250,35.6,6.7,1300,50.2,8.8,1800,51.4,7.4,950,51.5,7.3,1600,51.6,7.2,1050,60.8,9.2,1050,61.1,8.7,1050,61,8.4,1050,59.7,8.5,1450,59.5,8.1,800,61,7,800,61,7,1100,62.3,6.7,650,62.3,6.6,1900,60,5.6,400,60,5.6,850,59.7,5.3,1100,59.5,5.2,1200,35.8,5.3,550,40.6,5,300,41.2,4.1,500,41.5,3.9,1100,44.6,5.5,600,44.3,5,250,44.6,4.8,200,44.9,4.8,1850,39.5,3.1,600,38.6,2.3,1850,38.6,2.3,500,36.3,1.6,1800,43.5,2.9,1800,43.5,2.9,300,49.4,2.2,1250,50,1.8,350,50.8,1.6,1500,48.5,1.1,1700,48.9,1,1100,41.8,0.3,450,42.6,0,1450];
const farEastLower=[37.2,-3,1550,37.9,-3.1,950,38.1,-3.2,1250,46.2,-4.6,1450,46.2,-4.7,1000,46.6,-5.6,450,41.6,-6.4,700,41.5,-6.5,1450,36.2,-8.1,1200,37.3,-7.9,1750,37.4,-8.6,750,37.6,-9.1,800,42.2,-11,450,52.6,-3.2,350,55.2,-2.3,1400,54.8,-3,1550,55.5,-3.3,1300,55.9,-3.4,350,55.9,-4,950,55.5,-4,800,55.3,-4.5,1150,57.4,-3.9,1300,53.9,-5.6,800,53.8,-5.8,1800,53.6,-6,1750,53.9,-12.3,1100,54,-12.5,1800,54.3,-13,450,36.3,-14.5,1100,37.1,-14.4,1600,37.5,-14.7,350,37.5,-14.8,950,38.4,-14.5,1100,41.7,-14.8,1750,43.6,-14.5,1500,43.9,-14.7,500,44.4,-14.6,1850,45.1,-13.7,1000,45.9,-13.5,1000,46.4,-14.1,1200,45.1,-14.6,200,46.1,-15.1,250,45.8,-15.3,1800,46.6,-15.7,1500,47.3,-15.6,1100,47.4,-16.2,900,35.8,-20.2,1600,36,-20.2,1800,55,-20,700,55.9,-19.9,1500,56.2,-20,1050,42.7,-21.4,1400,41.3,-23.2,400,39.5,-23.9,500,40.2,-24.2,1650,40.5,-24.2,1650,49.9,-24.5,1200,40.5,-27.3,1550,39.8,-27.9,1100,40.4,-28.1,750,40.4,-28.2,1950,41.5,-28.2,1850,46,-30.6,1400,36.9,-34,350,35.7,-34.8,800,45.6,-33.9,1200,45.5,-34.2,1200,45.3,-35,1400];
// labelled words: text and the x, y of the point each one belongs to
const wordTexts=["بولسا","مەن","بولغان","كېيىن","ئۈچۈن","ئۇنىڭ","ئارقىلىق","ئۆز","ئېلىپ","قىلىش","قىلىپ","ئالغان","قىلغان","ئىدى","بولىدۇ","دۆلەت","شىنجاڭ","مەنبەھەلى","ئەل","خەلق","چوڭ","ئۇيغۇر","ھەي","مىڭ","يىلى","ئىككى","ھېچ","قاتارلىق","بار","بىلەن","دەپ","كۆپ","دېگەن","بۇ","ئۇ","ياكى","بىراق","بويىچە","شۇ","ھەمدە","بولۇپ","ھەر","يەنە","ئەمەس","خەل"];
const wordX=[16.9,21.6,27.8,29.8,10.7,10.9,7,10.1,31.8,35,36.7,37.2,37.8,41.3,44.6,-28.8,-38,-48.7,-48.4,-17.6,-4.7,-27.3,-24.1,-15.9,-4.8,5.9,6.1,18,20.3,3.6,12.7,8.7,14.8,4.7,2.1,1.1,-0.3,2.5,5.9,0.8,4,2.3,5.2,6.6,-3.8];
const wordY=[5,4.6,8.9,5.2,9.5,15.2,14.3,18.7,19.2,12.1,12.2,12.6,12.7,18.2,4.8,17.4,2.2,4.5,4.5,-0.9,-2.9,-7,-19.7,-36.6,-36.7,-20.6,-20.9,-23.4,-27,-4.5,-5.1,-7,-6.7,3.5,4.9,2.3,1.6,1.6,0.8,0.3,0.5,-1.3,-0.8,-0.7,0.7];
const colorbarSteps=d3.range(0,1999,4);

const triples=a=>d3.range(0,a.length,3).map(i=>({x:a[i],y:a[i+1],rank:a[i+2]}));
const words=[farWestUpper,farWestLower,westUpper,westLower,eastUpper,centreCluster,eastLower,farEastUpper,farEastLower].flatMap(triples);
const labels=wordTexts.map((t,i)=>({t,x:wordX[i],y:wordY[i]}));
const gridStyle={stroke:"#cccccc",strokeOpacity:1,strokeWidth:1.7};
const fontStyle={fontFamily:'"DejaVu Sans",sans-serif',color:"#262626",background:"transparent"};
const tickFont=20.8;

const main=Plot.plot({
  width:1720,height:1485,
  marginTop:53.5,marginBottom:78.3,marginLeft:92,marginRight:46,
  style:fontStyle,
  x:{domain:[-67.77,68.8]},
  y:{domain:[-67,65.2]},
  color:{type:"linear",scheme:"viridis",domain:[0,1999]},
  marks:[
    Plot.gridX(xTicks,{...gridStyle}),
    Plot.gridY(yTicks,{...gridStyle}),
    Plot.frame({stroke:"#cccccc",strokeWidth:1.9}),
    Plot.dot(words,{x:"x",y:"y",r:4.8,fill:"rank",stroke:"rank",fillOpacity:0.6,strokeOpacity:0.6,strokeWidth:1.3,sort:"rank"}),
    Plot.text(labels,{x:"x",y:"y",text:"t",textAnchor:"start",dx:2,dy:-3,fontSize:17,fill:"#000",fillOpacity:0.72,fontFamily:'"DejaVu Sans",sans-serif'}),
    Plot.axisX(xTicks,{tickSize:0,tickPadding:12,fontSize:tickFont,tickFormat:d=>String(d),label:"t-SNE Dimension 1",labelAnchor:"center",labelArrow:"none",labelOffset:57,fill:"#262626"}),
    Plot.axisY(yTicks,{tickSize:0,tickPadding:13,fontSize:tickFont,tickFormat:d=>String(d),label:"t-SNE Dimension 2",labelAnchor:"center",labelArrow:"none",labelOffset:78,fill:"#262626"})
  ]
});
main.style.left="0px";main.style.top="0px";
document.getElementById("page").appendChild(main);

const bar=Plot.plot({
  width:231,height:1485,
  marginTop:53.5,marginBottom:78.3,marginLeft:0,marginRight:165,
  style:fontStyle,
  x:{domain:[0,1],axis:null},
  y:{domain:[0,1999]},
  color:{type:"linear",scheme:"viridis",domain:[0,1999]},
  marks:[
    Plot.rect(colorbarSteps,{x1:0,x2:1,y1:d=>d,y2:d=>Math.min(1999,d+4),fill:d=>d,fillOpacity:0.6,shapeRendering:"crispEdges"}),
    Plot.frame({stroke:"#cccccc",strokeWidth:1.9}),
    Plot.axisY(colorTicks,{anchor:"right",tickSize:7,tickPadding:6,stroke:"#262626",fontSize:tickFont,tickFormat:d=>String(d),label:"Word Rank (by frequency)",labelAnchor:"center",labelArrow:"none",labelOffset:91,fill:"#262626"})
  ]
});
bar.style.left="1773px";bar.style.top="0px";
document.getElementById("page").appendChild(bar);
</script>
</body>
</html>
